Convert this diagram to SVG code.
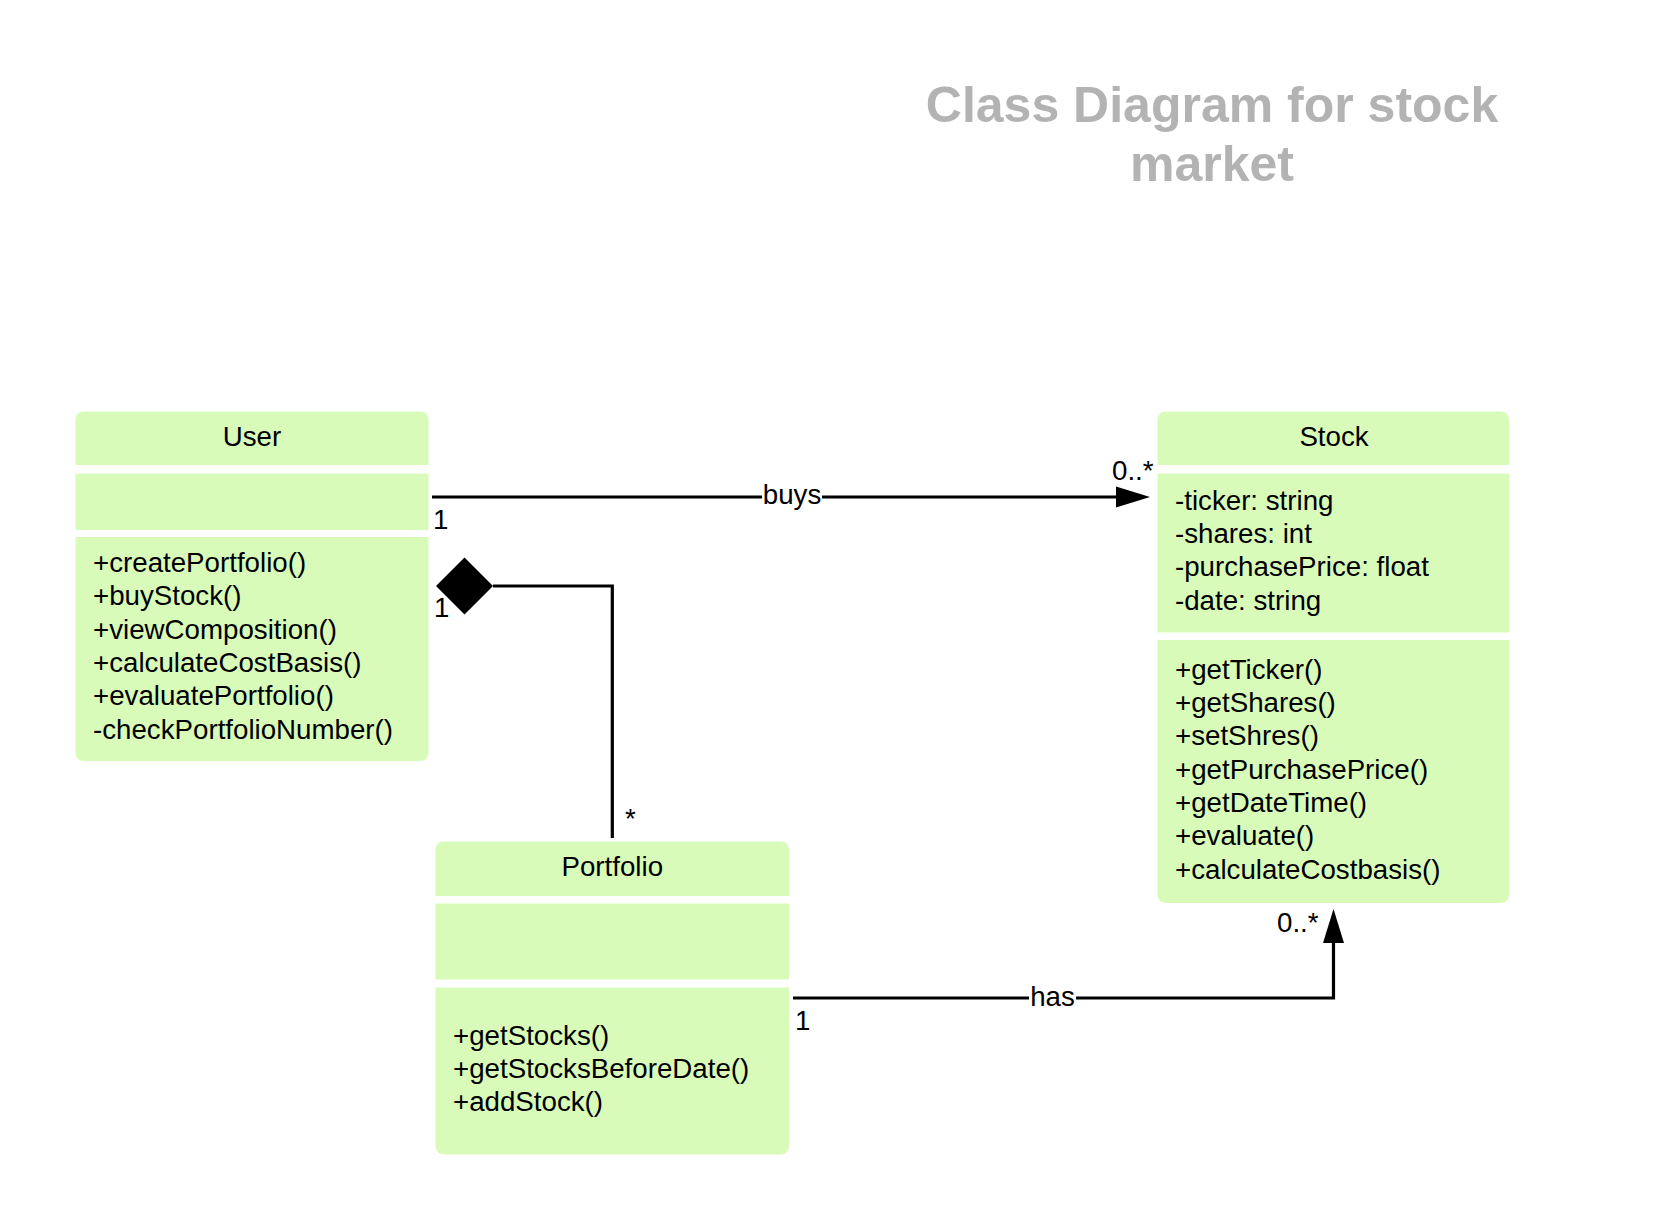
<svg xmlns="http://www.w3.org/2000/svg" width="1670" height="1230" viewBox="0 0 1670 1230">
<style>
.sec{fill:#d9fbb9;}
.t{font-family:"Liberation Sans",Arial,sans-serif;font-size:27.7px;fill:#000;}
.c{text-anchor:middle;}
.title{font-family:"Liberation Sans",Arial,sans-serif;font-size:50px;font-weight:bold;fill:#b3b3b3;text-anchor:middle;}
.ln{fill:none;stroke:#000;stroke-width:3.2;}
.lbg{fill:#fff;}
</style>
<defs>
<marker id="arrow" markerUnits="userSpaceOnUse" markerWidth="34" markerHeight="21" refX="0" refY="10.5" orient="auto" overflow="visible">
<path d="M0,0 L34,10.5 L0,21 Z" fill="#000"/>
</marker>
<marker id="diamond" markerUnits="userSpaceOnUse" markerWidth="57" markerHeight="57" refX="57" refY="28.5" orient="auto" overflow="visible">
<path d="M0,28.5 L28.5,0 L57,28.5 L28.5,57 Z" fill="#000"/>
</marker>
</defs>
<rect width="1670" height="1230" fill="#fff"/>
<g id="title">
<text class="title" x="1212" y="122">Class Diagram for stock</text>
<text class="title" x="1212" y="181">market</text>
</g>
<g id="connectors">
<g id="buys">
<path class="ln" d="M432,497 H1116" marker-end="url(#arrow)"/>
<rect class="lbg" x="762" y="480" width="60" height="30"/>
<text class="t c" x="792" y="504">buys</text>
<text class="t" x="433" y="529">1</text>
<text class="t" x="1112" y="480">0..*</text>
</g>
<g id="composition">
<path class="ln" d="M493,586 H612.3 V838" marker-start="url(#diamond)"/>
<text class="t" x="434" y="617">1</text>
<text class="t" x="625" y="828">*</text>
</g>
<g id="has">
<path class="ln" d="M793,998 H1333.5 V943" marker-end="url(#arrow)"/>
<rect class="lbg" x="1029" y="982" width="47" height="28"/>
<text class="t c" x="1052.5" y="1006">has</text>
<text class="t" x="795" y="1030">1</text>
<text class="t" x="1277" y="932">0..*</text>
</g>
</g>
<g id="User">
<path class="sec" d="M75.5,465 V420.5 Q75.5,411.5 84.5,411.5 H419.5 Q428.5,411.5 428.5,420.5 V465 Z"/>
<rect class="sec" x="75.5" y="473.5" width="353" height="56.5"/>
<path class="sec" d="M75.5,537 H428.5 V752 Q428.5,761 419.5,761 H84.5 Q75.5,761 75.5,752 Z"/>
<text class="t c" x="252" y="445.5">User</text>
<text class="t" x="93" y="572">+createPortfolio()</text>
<text class="t" x="93" y="605.3">+buyStock()</text>
<text class="t" x="93" y="638.6">+viewComposition()</text>
<text class="t" x="93" y="672">+calculateCostBasis()</text>
<text class="t" x="93" y="705.3">+evaluatePortfolio()</text>
<text class="t" x="93" y="738.6">-checkPortfolioNumber()</text>
</g>
<g id="Stock">
<path class="sec" d="M1157.5,465 V420.5 Q1157.5,411.5 1166.5,411.5 H1500 Q1509,411.5 1509,420.5 V465 Z"/>
<rect class="sec" x="1157.5" y="473.5" width="351.5" height="159"/>
<path class="sec" d="M1157.5,640 H1509 V894 Q1509,903 1500,903 H1166.5 Q1157.5,903 1157.5,894 Z"/>
<text class="t c" x="1334" y="445.5">Stock</text>
<text class="t" x="1175" y="509.6">-ticker: string</text>
<text class="t" x="1175" y="543">-shares: int</text>
<text class="t" x="1175" y="576.3">-purchasePrice: float</text>
<text class="t" x="1175" y="609.6">-date: string</text>
<text class="t" x="1175" y="678.6">+getTicker()</text>
<text class="t" x="1175" y="712">+getShares()</text>
<text class="t" x="1175" y="745.3">+setShres()</text>
<text class="t" x="1175" y="778.6">+getPurchasePrice()</text>
<text class="t" x="1175" y="812">+getDateTime()</text>
<text class="t" x="1175" y="845.3">+evaluate()</text>
<text class="t" x="1175" y="878.6">+calculateCostbasis()</text>
</g>
<g id="Portfolio">
<path class="sec" d="M435.5,896 V850.5 Q435.5,841.5 444.5,841.5 H780 Q789,841.5 789,850.5 V896 Z"/>
<rect class="sec" x="435.5" y="903.5" width="353.5" height="76"/>
<path class="sec" d="M435.5,987.5 H789 V1145.5 Q789,1154.5 780,1154.5 H444.5 Q435.5,1154.5 435.5,1145.5 Z"/>
<text class="t c" x="612.3" y="875.5">Portfolio</text>
<text class="t" x="453" y="1044.6">+getStocks()</text>
<text class="t" x="453" y="1078">+getStocksBeforeDate()</text>
<text class="t" x="453" y="1111.3">+addStock()</text>
</g>
</svg>
